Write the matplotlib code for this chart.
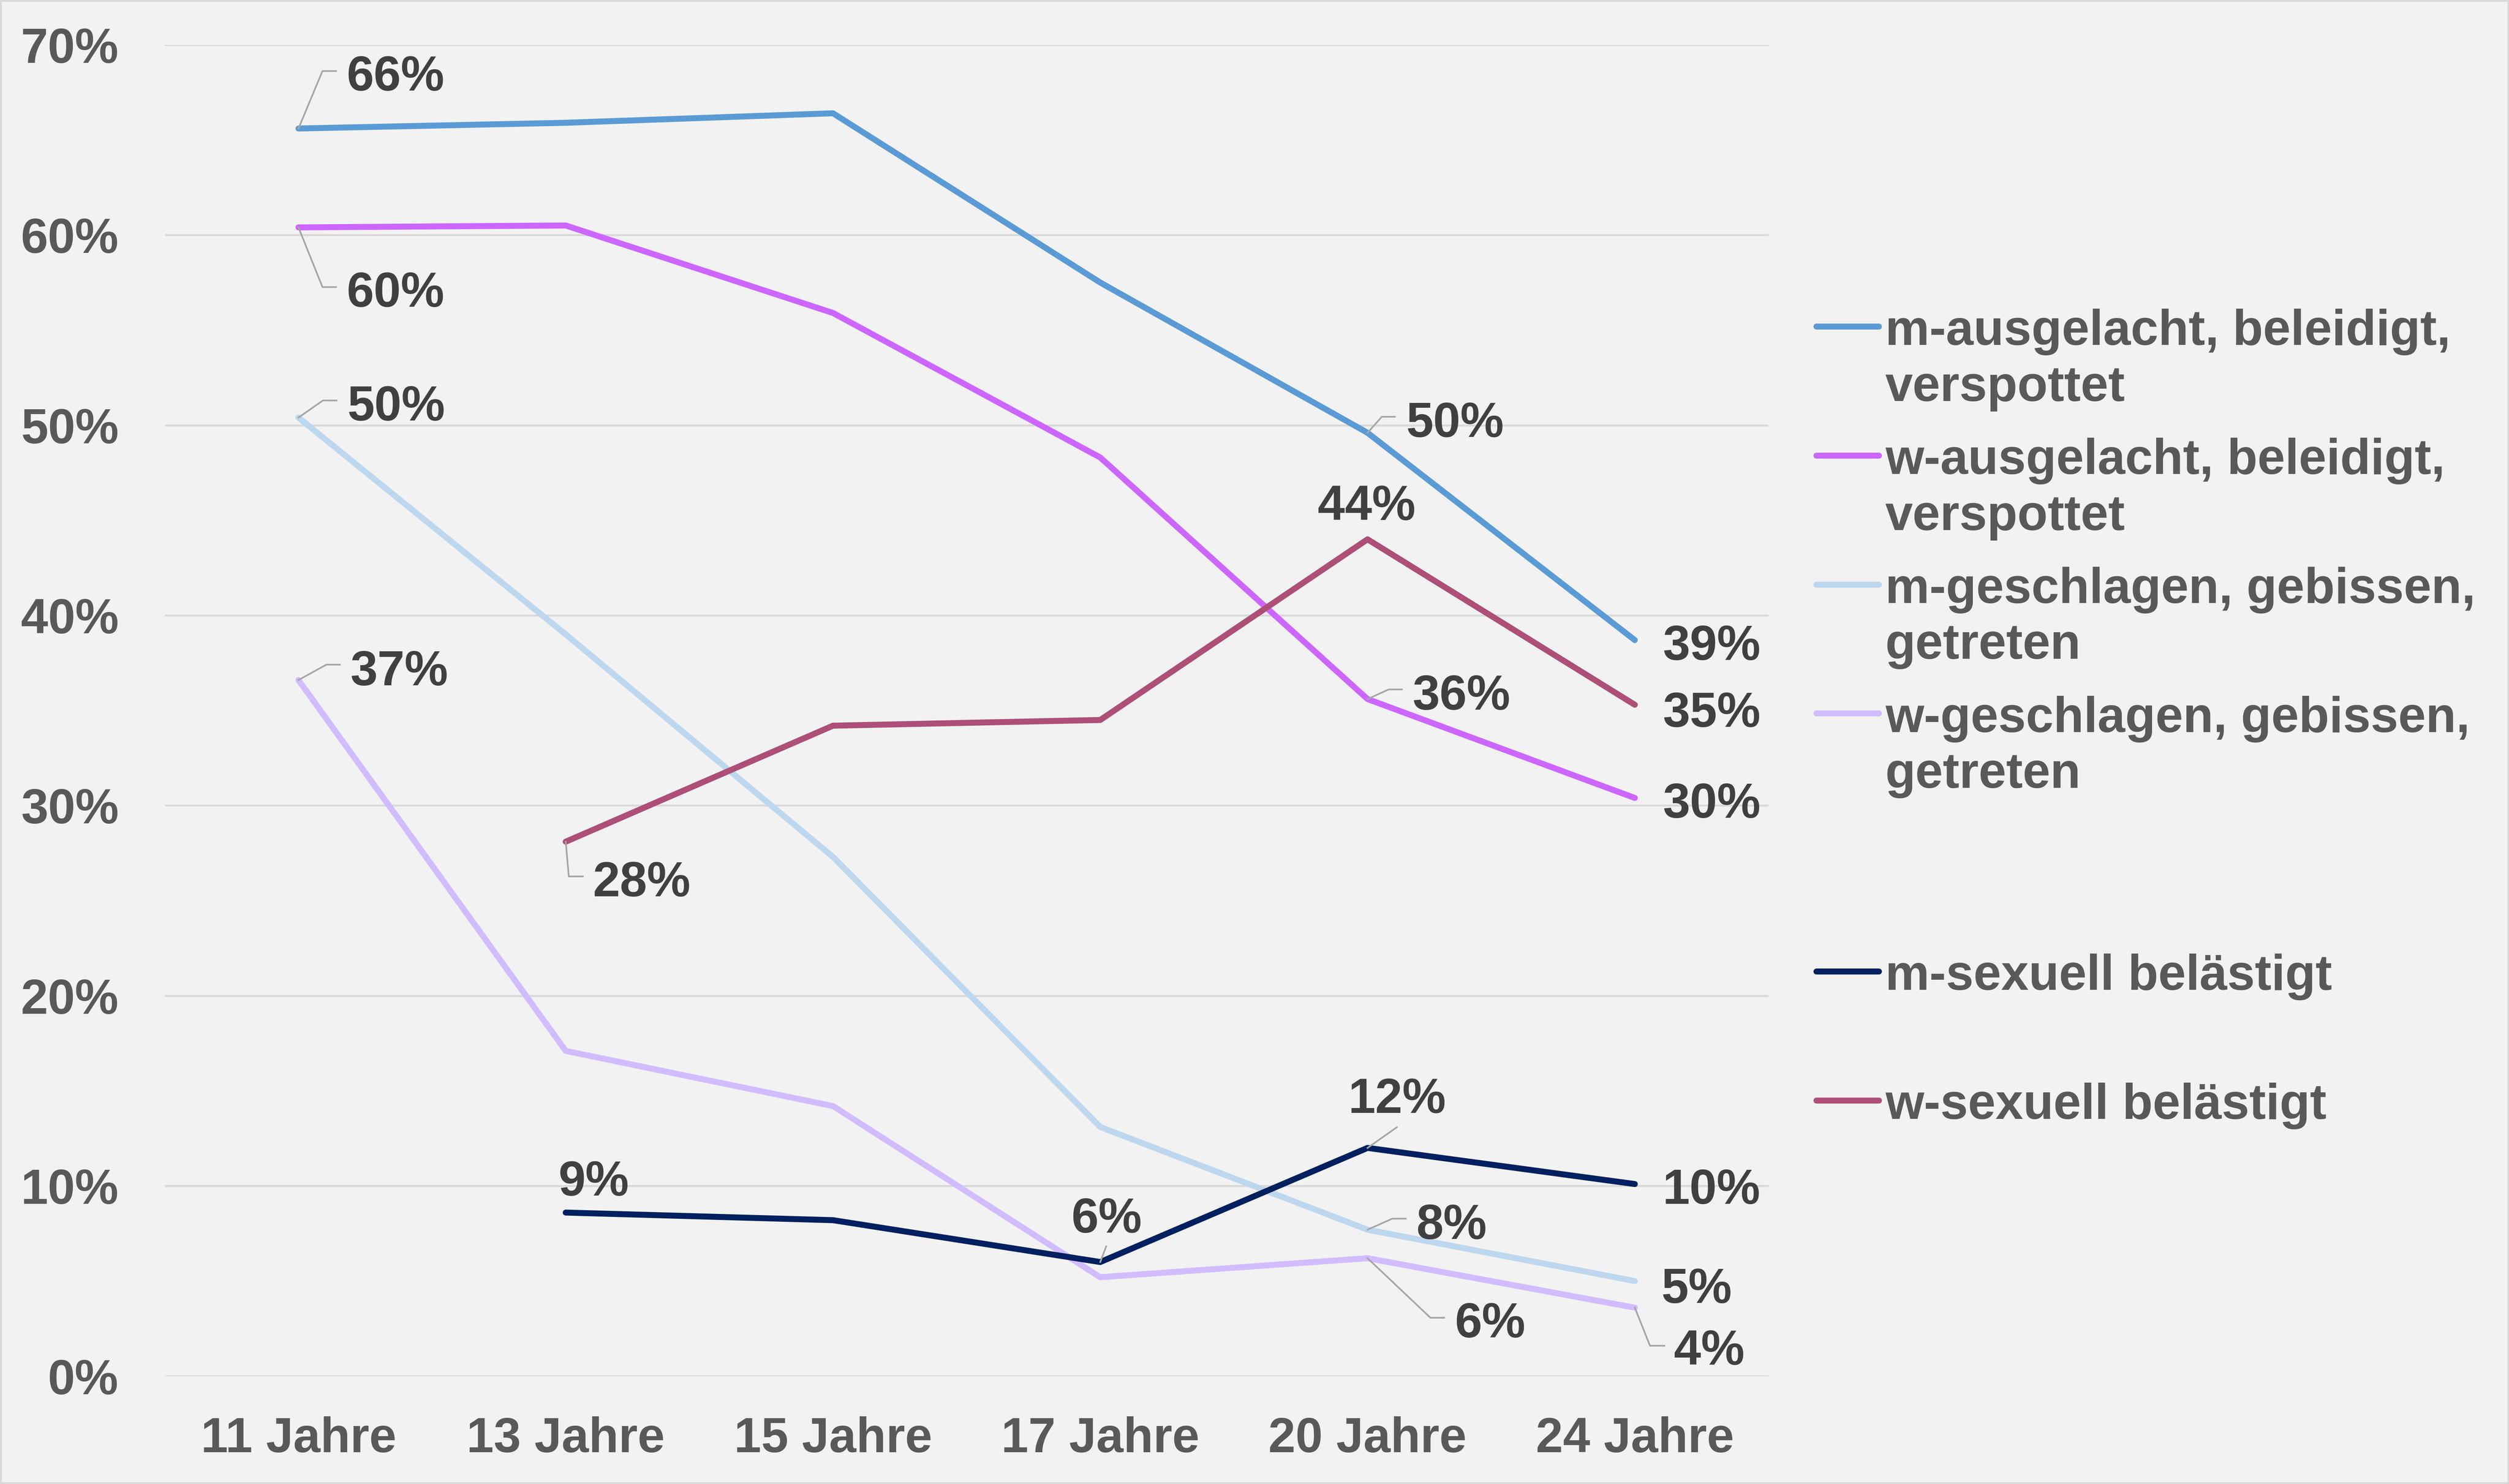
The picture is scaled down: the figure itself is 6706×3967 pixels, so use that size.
import numpy as np
import matplotlib

matplotlib.use("Agg")
import matplotlib.pyplot as plt
from matplotlib.lines import Line2D
from matplotlib.patches import Rectangle
from matplotlib.transforms import Affine2D, ScaledTranslation

plt.rcParams["font.family"] = ["Liberation Sans", "DejaVu Sans"]

# data (percent)
ages = ["11 Jahre", "13 Jahre", "15 Jahre", "17 Jahre", "20 Jahre", "24 Jahre"]
m_aus = [65.6, 65.9, 66.4, 57.5, 49.6, 38.7]
w_aus = [60.4, 60.5, 55.9, 48.3, 35.6, 30.4]
m_geschl = [50.4, 39.0, 27.3, 13.1, 7.7, 5.0]
w_geschl = [36.6, 17.1, 14.2, 5.2, 6.2, 3.6]
m_sex = [np.nan, 8.6, 8.2, 6.0, 12.0, 10.1]
w_sex = [np.nan, 28.1, 34.2, 34.5, 44.0, 35.3]

names = [
    "m-ausgelacht, beleidigt,\nverspottet",
    "w-ausgelacht, beleidigt,\nverspottet",
    "m-geschlagen, gebissen,\ngetreten",
    "w-geschlagen, gebissen,\ngetreten",
    "m-sexuell belästigt",
    "w-sexuell belästigt",
]
series = [m_aus, w_aus, m_geschl, w_geschl, m_sex, w_sex]
colors = ["#5B9BD5", "#CC66FF", "#BDD7EE", "#D0BCFF", "#002060", "#AD4F77"]

W, H, DPI = 6707, 3967, 100
S = 4.2775  # reference px -> output px
PT = S * 72 / DPI

fig = plt.figure(figsize=(W / DPI, H / DPI), dpi=DPI, facecolor="#F2F2F2")
ax = fig.add_axes([103 * S / W, 1 - 860 * S / H, 1002 * S / W, 832 * S / H])
ax.set_facecolor("#F2F2F2")
for sp in ax.spines.values():
    sp.set_visible(False)

x = np.arange(len(ages))
for vals, c in zip(series, colors):
    ax.plot(x, vals, color=c, lw=11.5, solid_capstyle="round",
            solid_joinstyle="round", zorder=3)

# data labels: (series, index, dx, dy, leader) in reference px
labels = [
    (0, 0, 60.5, 23.7, [(15, 35.9), (23.5, 35.9)]),
    (1, 0, 60.5, -49.5, [(15, -37.3), (23.5, -37.3)]),
    (2, 0, 61, -1.7, [(15.3, 10.7), (23.8, 10.7)]),
    (3, 0, 63, -3.2, [(17.4, 9.6), (25.9, 9.6)]),
    (5, 1, 47.5, -34.2, [(1.9, -21.7), (10.7, -21.7)]),
    (4, 1, 17.5, 10.7, None),
    (4, 3, 4, 18.4, [(3.7, 9.8)]),
    (4, 4, 18.5, 21.8, [(18.3, 12.9)]),
    (2, 4, 52.5, -5.8, [(15.5, 6.9), (23.9, 6.9)]),
    (3, 4, 76.5, -49.5, [(39.3, -37.2), (47.9, -37.2)]),
    (3, 5, 46.5, -35.7, [(9.5, -23.8), (18.5, -23.8)]),
    (4, 5, 48, -12.3, None),
    (2, 5, 38.5, -13.7, None),
    (0, 4, 54.5, -2.7, [(8.9, 10), (17.1, 10)]),
    (5, 4, -0.5, 12.1, None),
    (1, 4, 58.5, -6.7, [(13.2, 6), (21.5, 6)]),
    (0, 5, 48, -12.3, None),
    (5, 5, 48, -13.9, None),
    (1, 5, 48, -12.3, None),
]
for si, i, dx, dy, leader in labels:
    v = series[si][i]
    ax.annotate(f"{v:.0f}%", xy=(i, v), xytext=(dx * PT, dy * PT),
                textcoords="offset points", ha="center", va="baseline",
                fontsize=94, fontweight="bold", color="#404040", zorder=5)
    if leader:
        tr = Affine2D().scale(S) + ScaledTranslation(i, v, ax.transData)
        pts = [(0, 0)] + leader
        ax.add_line(Line2D([p[0] for p in pts], [p[1] for p in pts],
                           transform=tr, color="#A6A6A6", lw=3.2,
                           clip_on=False, zorder=4))

ax.set_xlim(-0.5, 5.5)
ax.set_ylim(0, 70)
ax.set_xticks(x)
ax.set_xticklabels(ages)
ax.set_yticks(np.arange(0, 71, 10))
ax.set_yticklabels([f"{t}%" for t in range(0, 71, 10)])
ax.yaxis.grid(True, color="#D9D9D9", lw=3.8)
ax.set_axisbelow(True)
ax.tick_params(axis="y", length=0, pad=89, labelsize=94, labelcolor="#595959")
ax.tick_params(axis="x", length=0, pad=77, labelsize=94, labelcolor="#595959")
for t in ax.get_xticklabels() + ax.get_yticklabels():
    t.set_fontweight("bold")

# legend, drawn by hand (Excel keeps the handle on the first text line)
slots = [0, 1, 2, 3, 5, 6]
for name, c, k in zip(names, colors, slots):
    hy = 204.1 + 80.6 * k
    fig.add_artist(Line2D([1135 * S / W, 1174 * S / W], [1 - hy * S / H] * 2,
                          transform=fig.transFigure, color=c, lw=11.5,
                          solid_capstyle="round"))
    for j, line in enumerate(name.split("\n")):
        by = hy + 11.5 + 35 * j
        fig.text(1178 * S / W, 1 - by * S / H, line, fontsize=95.5,
                 fontweight="bold", color="#595959", ha="left", va="baseline")

fig.add_artist(Rectangle((0, 0), 1, 1, transform=fig.transFigure, fill=False,
                         edgecolor="#D9D9D9", lw=7))

fig.savefig("out.png", dpi=DPI, facecolor=fig.get_facecolor())
